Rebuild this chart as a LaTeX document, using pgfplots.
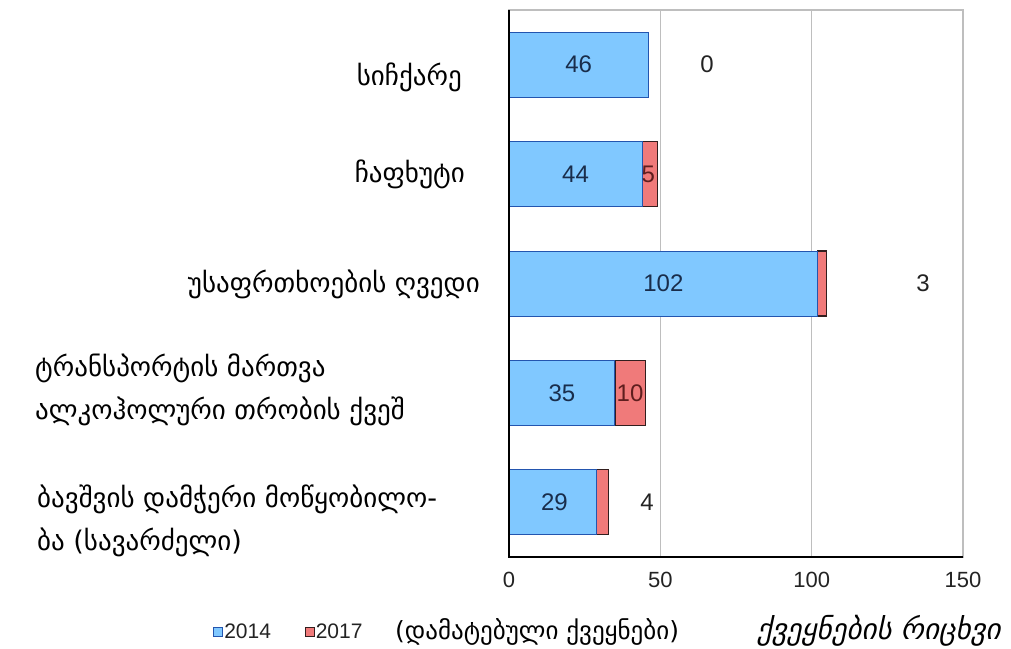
\documentclass[border=0pt]{standalone}
\usepackage{fontspec}
\setmainfont{Liberation Sans}
\newfontfamily\geo{DejaVu Sans}
\usepackage{pgfplots}
\pgfplotsset{compat=1.18}
\definecolor{bfill}{RGB}{128,200,255}
\definecolor{bdraw}{RGB}{35,85,175}
\definecolor{rfill}{RGB}{240,122,122}
\definecolor{rdraw}{RGB}{50,30,30}
\definecolor{txt}{RGB}{35,35,35}
\definecolor{btxt}{RGB}{25,45,75}
\definecolor{rtxt}{RGB}{95,30,30}
\definecolor{gridc}{RGB}{190,190,190}
\newcommand\lab{\fontsize{22}{26}\selectfont}
\newcommand\vlab{\fontsize{24}{28}\selectfont}
\newcommand\glab{\geo\fontsize{27}{30}\selectfont}
\begin{document}
\begin{tikzpicture}[x=1pt,y=1pt]
\useasboundingbox (0,0) rectangle (1011,648);
\begin{axis}[
  at={(509pt,91pt)}, anchor=south west,
  scale only axis, width=454pt, height=547pt,
  xbar stacked, bar width=65pt,
  xmin=0, xmax=150, ymin=-0.5, ymax=4.5, y dir=reverse,
  xtick={0,50,100,150}, ytick=\empty,
  major tick length=0pt,
  xmajorgrids, grid style={gridc, line width=1.2pt},
  axis line style={gridc, line width=1.5pt},
  tick label style={font=\lab, text=txt},
  xticklabel style={yshift=-12pt},
  /pgf/number format/assume math mode=true,
  clip=false,
  legend style={draw=none, fill=none, at={(axis description cs:-0.652,-0.137)}, anchor=west,
    font=\fontsize{21}{23}\selectfont, text=txt, legend columns=-1,
    /tikz/every even column/.append style={column sep=32pt},
    nodes={inner sep=1.5pt},
    inner sep=0pt, outer sep=0pt},
  legend image code/.code={\draw[#1, line width=0.8pt] (0pt,-4.5pt) rectangle (9pt,4.5pt);},
]
\addplot[fill=bfill, draw=bdraw, line width=1pt] coordinates {(46,0) (44,1) (102,2) (35,3) (29,4)};
\addplot[fill=rfill, draw=rdraw, line width=1.2pt] coordinates {(0,0) (5,1) (3,2) (10,3) (4,4)};
\legend{2014,2017}
\coordinate (tl) at (rel axis cs:0,1);
\coordinate (bl) at (rel axis cs:0,0);
\coordinate (br) at (rel axis cs:1,0);
\coordinate (a1) at (axis cs:23,0);
\coordinate (a2) at (axis cs:22,1);
\coordinate (a3) at (axis cs:51,2);
\coordinate (a4) at (axis cs:17.5,3);
\coordinate (a5) at (axis cs:15,4);
\coordinate (b1) at (axis cs:65.4,0);
\coordinate (b2) at (axis cs:46,1);
\coordinate (b3) at (axis cs:136.8,2);
\coordinate (b4) at (axis cs:40,3);
\coordinate (b5) at (axis cs:45.6,4);
\end{axis}
\draw[black, line width=1.5pt] (tl) -- (bl) -- (br);
\node[font=\vlab, text=btxt] at (a1) {46};
\node[font=\vlab, text=btxt] at (a2) {44};
\node[font=\vlab, text=btxt] at (a3) {102};
\node[font=\vlab, text=btxt] at (a4) {35};
\node[font=\vlab, text=btxt] at (a5) {29};
\node[font=\vlab, text=txt] at (b1) {0};
\node[font=\vlab, text=rtxt, inner sep=0pt] at (b2) {5};
\node[font=\vlab, text=txt] at (b3) {3};
\node[font=\vlab, text=rtxt, inner sep=0pt] at (b4) {10};
\node[font=\vlab, text=txt] at (b5) {4};
% category labels
\node[font=\glab, anchor=base east, inner sep=0pt] at (462,562) {სიჩქარე};
\node[font=\glab, anchor=base east, inner sep=0pt] at (465,465) {ჩაფხუტი};
\node[font=\glab, anchor=base east, inner sep=0pt] at (480,355) {უსაფრთხოების ღვედი};
\node[font=\glab, anchor=base west, inner sep=0pt] at (35,271) {ტრანსპორტის მართვა};
\node[font=\glab, anchor=base west, inner sep=0pt] at (35,228) {ალკოჰოლური თრობის ქვეშ};
\node[font=\glab, anchor=base west, inner sep=0pt] at (37,141) {ბავშვის დამჭერი მოწყობილო-};
\node[font=\glab, anchor=base west, inner sep=0pt] at (37,98) {ბა (სავარძელი)};
% legend extras
\node[font=\geo\fontsize{25}{27}\selectfont, anchor=west, inner sep=0pt] at (395,16) {(დამატებული ქვეყნები)};
\node[font=\geo\itshape\fontsize{29}{31}\selectfont, anchor=west, inner sep=0pt] at (757,17) {ქვეყნების რიცხვი};
\end{tikzpicture}
\end{document}
